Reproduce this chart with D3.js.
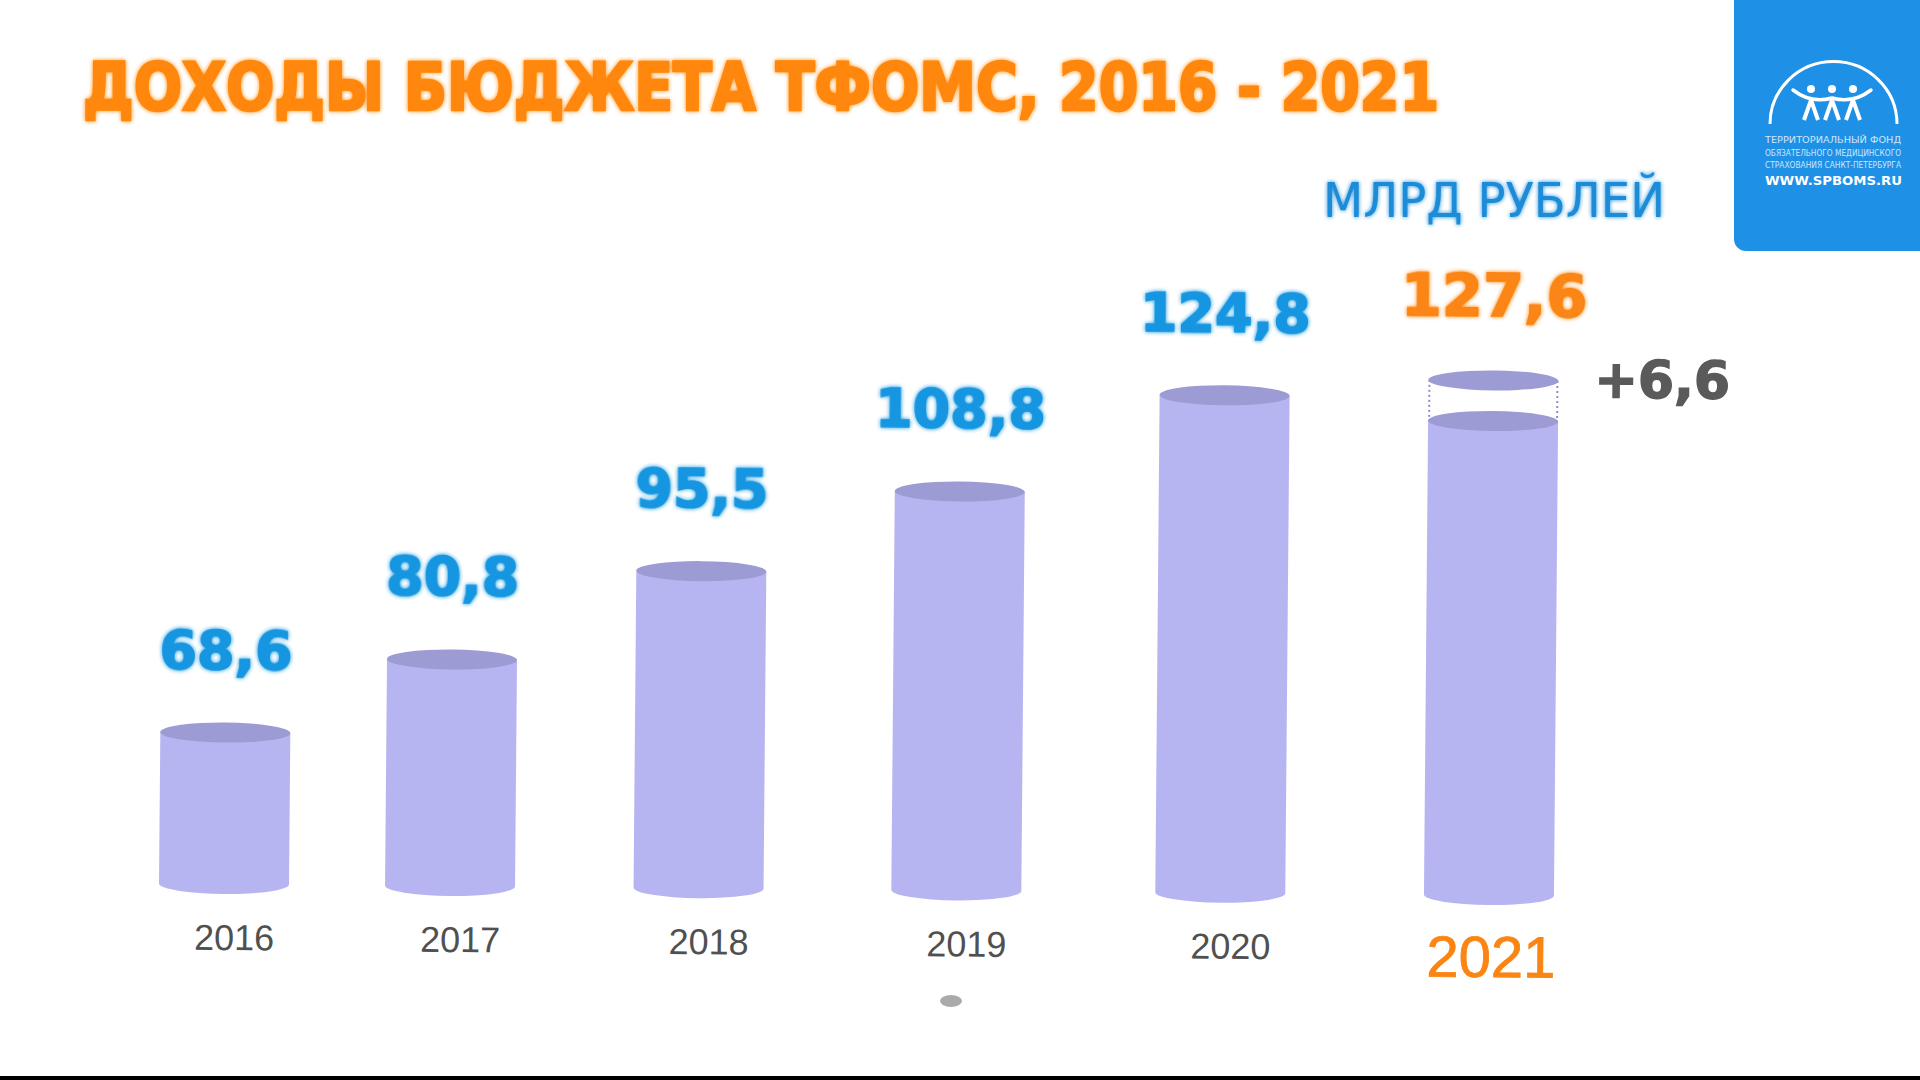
<!DOCTYPE html>
<html>
<head>
<meta charset="utf-8">
<script src="https://cdn.jsdelivr.net/npm/d3@7"></script>
<style>
  html, body { margin: 0; padding: 0; background: #ffffff; }
  svg { display: block; }
</style>
</head>
<body>
<script>
// ---- data ----
const years = ["2016", "2017", "2018", "2019", "2020", "2021"];
const totals = [68.6, 80.8, 95.5, 108.8, 124.8, 127.6];
const increments = [0, 0, 0, 0, 0, 6.6];
const valueLabels = ["68,6", "80,8", "95,5", "108,8", "124,8", "127,6"];
const incrementLabels = ["", "", "", "", "", "+6,6"];
const highlightYear = "2021";
const titleText = "ДОХОДЫ БЮДЖЕТА ТФОМС, 2016 - 2021";
const unitText = "МЛРД РУБЛЕЙ";
const logoLines = ["ТЕРРИТОРИАЛЬНЫЙ ФОНД", "ОБЯЗАТЕЛЬНОГО МЕДИЦИНСКОГО", "СТРАХОВАНИЯ САНКТ-ПЕТЕРБУРГА"];
const logoUrl = "WWW.SPBOMS.RU";

const rows = years.map((yr, i) => ({
  year: yr, total: totals[i], inc: increments[i], base: totals[i] - increments[i],
  label: valueLabels[i], incLabel: incrementLabels[i]
}));

// ---- layout ----
const W = 1920, H = 1080;
const svg = d3.select("body").append("svg").attr("width", W).attr("height", H);
svg.append("rect").attr("width", W).attr("height", H).attr("fill", "#ffffff");

const baseY = 884;
// slight perspective: spacing widens to the right
const xIndex = d3.scalePow().exponent(1.07).domain([0, years.length - 1]).range([224, 1489]);
const x = d3.scaleOrdinal().domain(years).range(years.map((_, i) => xIndex(i)));
const y = d3.scaleLinear().domain([44, 130]).range([baseY, 354.6]);
const bw = 130, ry = 10;

const blue = "#1896e0", orange = "#fb8512", grey = "#5a5a5a";
const bodyFill = "#b6b5f2", topFill = "#9d9bd3";

// glow filter
const defs = svg.append("defs");
const glow = defs.append("filter").attr("id", "glow").attr("x", "-10%").attr("y", "-30%").attr("width", "120%").attr("height", "160%");
glow.append("feGaussianBlur").attr("in", "SourceGraphic").attr("stdDeviation", 2).attr("result", "b");
const m = glow.append("feMerge");
m.append("feMergeNode").attr("in", "b");
m.append("feMergeNode").attr("in", "SourceGraphic");

// ---- title ----
svg.append("text")
  .attr("x", 83).attr("y", 110)
  .attr("textLength", 1356).attr("lengthAdjust", "spacingAndGlyphs")
  .attr("font-family", "DejaVu Sans").attr("font-weight", "bold").attr("font-size", 66)
  .attr("fill", "#ff8708").attr("stroke", "#ff8708").attr("stroke-width", 2.5)
  .attr("filter", "url(#glow)")
  .text(titleText);

// unit
svg.append("text")
  .attr("x", 1323).attr("y", 217)
  .attr("textLength", 342).attr("lengthAdjust", "spacingAndGlyphs")
  .attr("font-family", "DejaVu Sans").attr("font-size", 48)
  .attr("fill", "#1b8bd8").attr("filter", "url(#glow)")
  .text(unitText);

// ---- logo ----
const logo = svg.append("g");
logo.append("rect").attr("x", 1734).attr("y", -20).attr("width", 220).attr("height", 271)
  .attr("rx", 12).attr("fill", "#1e90e6");
logo.append("path").attr("d", "M1770,124 A63,62 0 0,1 1897,124")
  .attr("fill", "none").attr("stroke", "#ffffff").attr("stroke-width", 3);
const heads = [1811, 1832, 1853];
heads.forEach(hx => {
  logo.append("circle").attr("cx", hx).attr("cy", 89).attr("r", 4).attr("fill", "#fff");
  logo.append("path").attr("d", `M${hx - 7},120 L${hx},100 L${hx + 7},120`)
    .attr("fill", "none").attr("stroke", "#fff").attr("stroke-width", 4).attr("stroke-linejoin", "round");
});
logo.append("path").attr("d", "M1793,90 Q1811,104 1832,98 Q1853,104 1871,90")
  .attr("fill", "none").attr("stroke", "#fff").attr("stroke-width", 3.5).attr("stroke-linecap", "round");
logoLines.forEach((t, i) => {
  logo.append("text").attr("x", 1765).attr("y", 143 + i * 12.5)
    .attr("textLength", 136).attr("lengthAdjust", "spacingAndGlyphs")
    .attr("font-family", "DejaVu Sans").attr("font-size", 8).attr("fill", "#cfe6fb")
    .text(t);
});
logo.append("text").attr("x", 1765).attr("y", 185)
  .attr("textLength", 137).attr("lengthAdjust", "spacingAndGlyphs")
  .attr("font-family", "DejaVu Sans").attr("font-weight", "bold").attr("font-size", 12).attr("fill", "#ffffff")
  .text(logoUrl);

// ---- chart ----
const chart = svg.append("g").attr("transform", `rotate(0.5, 224, ${baseY})`);

const bars = chart.selectAll("g.bar").data(rows).join("g").attr("class", "bar");

bars.append("path")
  .attr("fill", bodyFill)
  .attr("d", d => {
    const cx = x(d.year), l = cx - bw / 2, r = cx + bw / 2, t = y(d.base), b = y.range()[0];
    return `M${l},${t} L${l},${b} A${bw / 2},${ry} 0 0 0 ${r},${b} L${r},${t} Z`;
  });
bars.append("ellipse")
  .attr("cx", d => x(d.year)).attr("cy", d => y(d.base))
  .attr("rx", bw / 2).attr("ry", ry).attr("fill", topFill);

const incBars = bars.filter(d => d.inc > 0);
[-1, 1].forEach(s => {
  incBars.append("line")
    .attr("x1", d => x(d.year) + s * (bw / 2 - 1)).attr("x2", d => x(d.year) + s * (bw / 2 - 1))
    .attr("y1", d => y(d.total)).attr("y2", d => y(d.base))
    .attr("stroke", "#8f8dc4").attr("stroke-width", 2).attr("stroke-dasharray", "2,3");
});
incBars.append("ellipse")
  .attr("cx", d => x(d.year)).attr("cy", d => y(d.total))
  .attr("rx", bw / 2).attr("ry", ry).attr("fill", topFill);
incBars.append("text")
  .attr("x", d => x(d.year) + bw / 2 + 36)
  .attr("y", d => y(d.total) + 16)
  .attr("font-family", "DejaVu Sans").attr("font-weight", "bold").attr("font-size", 52)
  .attr("fill", grey).attr("stroke", grey).attr("stroke-width", 1.5)
  .text(d => d.incLabel);

// value labels
bars.append("text")
  .attr("x", d => x(d.year))
  .attr("y", d => y(d.total) - 64)
  .attr("text-anchor", "middle")
  .attr("font-family", "DejaVu Sans").attr("font-weight", "bold")
  .attr("font-size", d => d.year === highlightYear ? 59 : 54)
  .attr("fill", d => d.year === highlightYear ? orange : blue)
  .attr("stroke", d => d.year === highlightYear ? orange : blue).attr("stroke-width", 1.5)
  .attr("filter", "url(#glow)")
  .text(d => d.label);

// year axis
const axis = chart.append("g").attr("transform", `translate(0,${baseY})`)
  .call(d3.axisBottom(x).tickSize(0));
axis.select(".domain").remove();
axis.selectAll(".tick text")
  .attr("dy", 0)
  .attr("x", d => d === highlightYear ? 2 : 10)
  .attr("y", d => d === highlightYear ? 82 : 66)
  .attr("font-family", "Liberation Sans, Arial, sans-serif")
  .attr("font-size", d => d === highlightYear ? 58 : 36)
  .attr("fill", d => d === highlightYear ? orange : "#505050")
  .attr("stroke", d => d === highlightYear ? orange : "none")
  .attr("stroke-width", 0.8);

// small slide dot & bottom strip
svg.append("ellipse").attr("cx", 951).attr("cy", 1001).attr("rx", 11).attr("ry", 6).attr("fill", "#aaaaaa");
svg.append("rect").attr("x", 0).attr("y", 1076).attr("width", W).attr("height", 4).attr("fill", "#000000");
</script>
</body>
</html>
